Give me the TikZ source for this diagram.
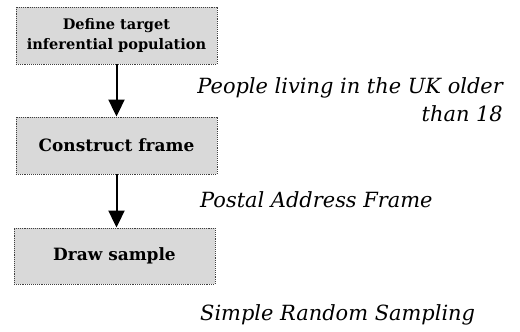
\documentclass[tikz,border=0pt]{standalone}
\usepackage{fontspec}
\setmainfont{DejaVu Serif}
\usetikzlibrary{arrows.meta}
\definecolor{boxfill}{HTML}{D9D9D9}
\definecolor{boxline}{HTML}{404040}
\begin{document}
\begin{tikzpicture}[x=1bp,y=-1bp,
  stepbox/.style={draw=boxline, densely dotted, line width=0.9bp, fill=boxfill,
    minimum width=201bp, inner sep=0pt, align=center, font=\bfseries},
  flow/.style={line width=2bp, -{Triangle[width=16bp,length=17bp]}},
  note/.style={font=\itshape\fontsize{21}{29}\selectfont, inner sep=0pt}]
  \useasboundingbox (0,0) rectangle (520,331);

  % process steps
  \node[stepbox, minimum height=57bp, font=\bfseries\fontsize{14.6}{20}\selectfont]
    (define) at (116.5,35.5) {Define target\\inferential population};
  \node[stepbox, minimum height=57bp, font=\bfseries\fontsize{17}{20}\selectfont]
    (frame) at (116.5,145.5) {Construct frame};
  \node[stepbox, minimum height=56bp, font=\bfseries\fontsize{17}{20}\selectfont]
    (sample) at (114.5,256) {Draw sample};

  % connectors
  \draw[flow] (define) -- (frame);
  \draw[flow] (frame.south) -- (frame.south |- sample.north);

  % annotations
  \node[note, align=right, anchor=north east] (pop) at (503,77)
    {People living in the UK older\\than 18};
  \node[note, anchor=base west] (postal) at (200,207) {Postal Address Frame};
  \node[note, anchor=base west] (srs) at (200,320) {Simple Random Sampling};
\end{tikzpicture}
\end{document}
